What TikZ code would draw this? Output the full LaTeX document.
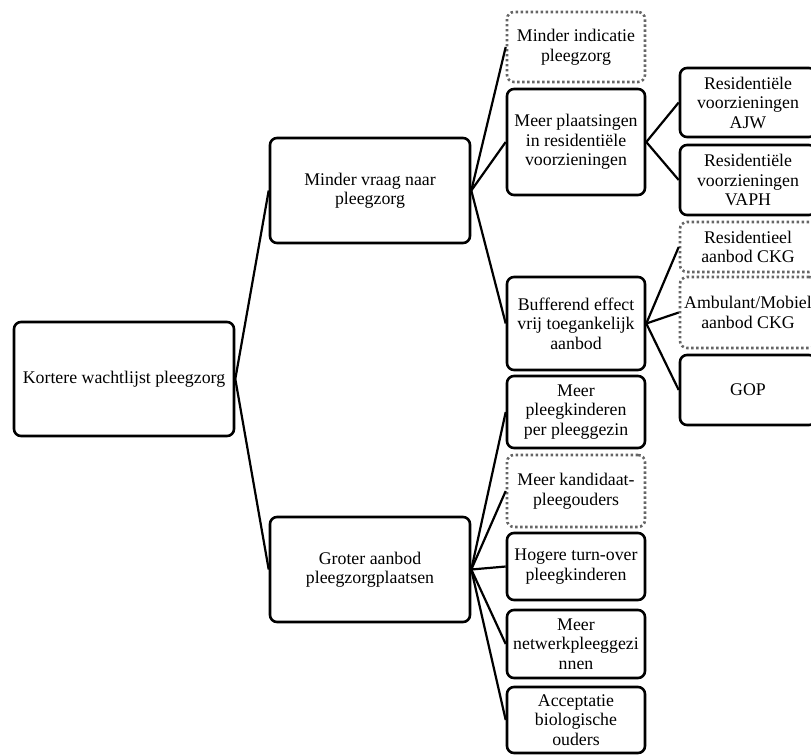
\documentclass[tikz,border=0pt]{standalone}
\usepackage{fontspec}
\setmainfont{Liberation Serif}
\usepackage{tikz}
\usetikzlibrary{positioning}

\begin{document}
\begin{tikzpicture}[
    x=1pt, y=-1pt,
    box/.style={draw, line width=2.6pt, rounded corners=7pt, align=center, inner sep=0pt, font=\fontsize{17.8}{19.5}\selectfont},
    dotbox/.style={box, draw=black!60, dash pattern=on 2.4pt off 2.6pt},
    link/.style={line width=2.2pt}]
    \useasboundingbox (0,0) rectangle (811,755);
    % Root
    \node[box, minimum width=220pt, minimum height=114pt] (wacht) at (124,379) {Kortere wachtlijst pleegzorg};
    % Second level
    \node[box, minimum width=200pt, minimum height=105pt] (vraag) at (370,190.5) {Minder vraag naar\\pleegzorg};
    \node[box, minimum width=200pt, minimum height=105pt] (aanbod) at (370,569.5) {Groter aanbod\\pleegzorgplaatsen};
    % Third level, demand side
    \node[dotbox, minimum width=138pt, minimum height=70pt] (indicatie) at (576,47) {Minder indicatie\\pleegzorg};
    \node[box, minimum width=138pt, minimum height=106pt] (plaatsing) at (576,142) {Meer plaatsingen\\in residenti\"ele\\voorzieningen};
    \node[box, minimum width=138pt, minimum height=93pt] (buffer) at (576,323.5) {Bufferend effect\\vrij toegankelijk\\aanbod};
    % Third level, supply side
    \node[box, minimum width=138pt, minimum height=72pt] (kinderen) at (576,412) {Meer\\pleegkinderen\\per pleeggezin};
    \node[dotbox, minimum width=138pt, minimum height=72pt] (kandidaat) at (576,491) {Meer kandidaat-\\pleegouders};
    \node[box, minimum width=138pt, minimum height=67pt] (turnover) at (576,566.5) {Hogere turn-over\\pleegkinderen};
    \node[box, minimum width=138pt, minimum height=68pt] (netwerk) at (576,644) {Meer\\netwerkpleeggezi\\nnen};
    \node[box, minimum width=138pt, minimum height=66pt] (ouders) at (576,720) {Acceptatie\\biologische\\ouders};
    % Fourth level
    \node[box, minimum width=136pt, minimum height=69pt] (ajw) at (748,102.5) {Residenti\"ele\\voorzieningen\\AJW};
    \node[box, minimum width=136pt, minimum height=70pt] (vaph) at (748,180) {Residenti\"ele\\voorzieningen\\VAPH};
    \node[dotbox, minimum width=136pt, minimum height=50pt] (ckgres) at (748,247) {Residentieel\\aanbod CKG};
    \node[dotbox, minimum width=136pt, minimum height=71pt] (ckgamb) at (748,312.5) {Ambulant/Mobiel\\aanbod CKG};
    \node[box, minimum width=136pt, minimum height=70pt] (gop) at (748,390) {GOP};
    % edges
    \draw[link] (wacht.east) -- (vraag.west);
    \draw[link] (wacht.east) -- (aanbod.west);
    \foreach \t in {indicatie,plaatsing,buffer}
      \draw[link] (vraag.east) -- (\t.west);
    \foreach \t in {kinderen,kandidaat,turnover,netwerk,ouders}
      \draw[link] (aanbod.east) -- (\t.west);
    \foreach \t in {ajw,vaph}
      \draw[link] (plaatsing.east) -- (\t.west);
    \foreach \t in {ckgres,ckgamb,gop}
      \draw[link] (buffer.east) -- (\t.west);
\end{tikzpicture}
\end{document}
